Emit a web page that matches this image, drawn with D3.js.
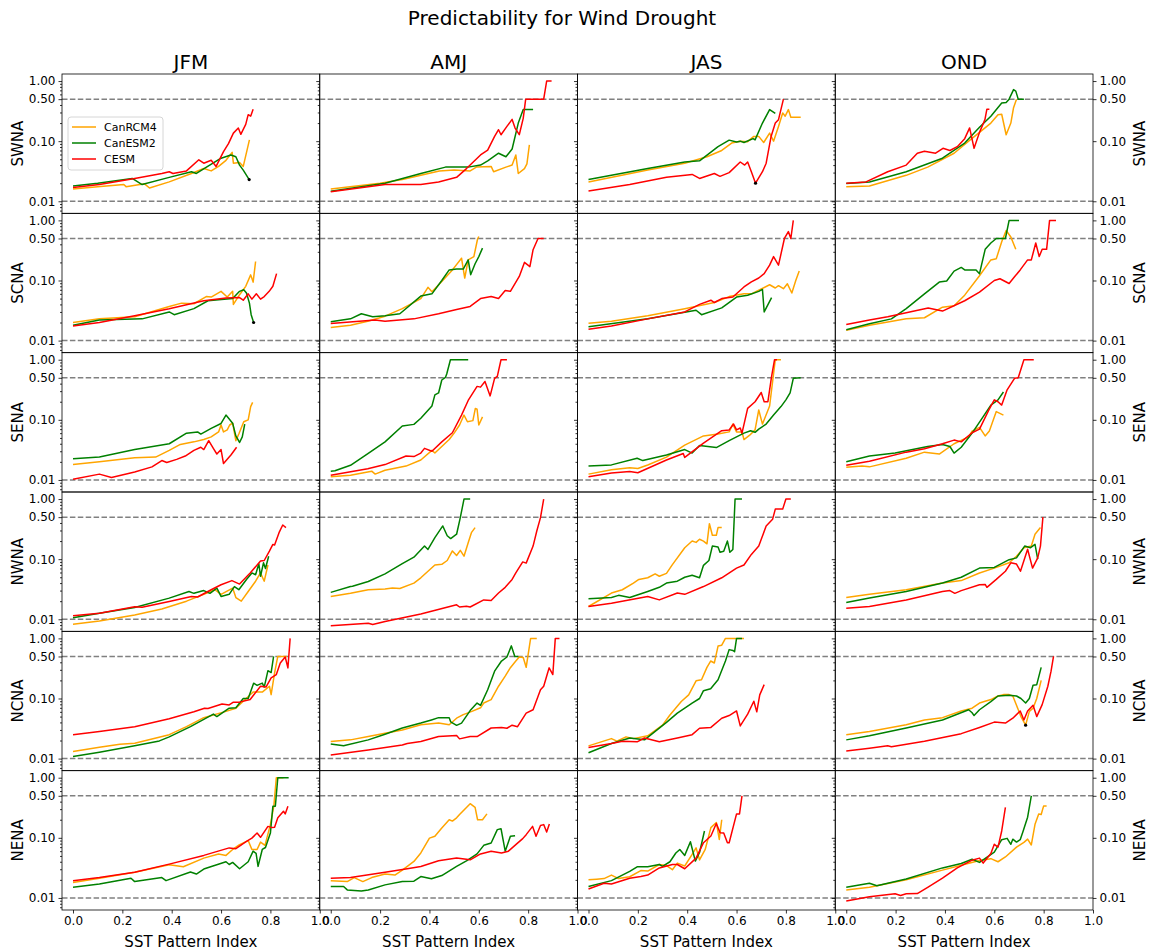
<!DOCTYPE html>
<html>
<head>
<meta charset="utf-8">
<script src="https://cdn.jsdelivr.net/npm/d3@7"></script>
<style>
  html, body { margin: 0; padding: 0; background: #fff; }
  svg { display: block; font-family: "DejaVu Sans", sans-serif; }
</style>
</head>
<body>
<svg id="chart" width="1153" height="951"></svg>
<script>
// ---- categories and labels ----
const seasons = ["JFM", "AMJ", "JAS", "OND"];
const regions = ["SWNA", "SCNA", "SENA", "NWNA", "NCNA", "NENA"];
const models = ["CanRCM4", "CanESM2", "CESM"];
const yTickValues = [0.01, 0.1, 0.5, 1.0];
const yTickLabels = ["0.01", "0.10", "0.50", "1.00"];
const xTickValues = [0.0, 0.2, 0.4, 0.6, 0.8, 1.0];
const thresholdLevels = [0.5, 0.01];
const titleText = "Predictability for Wind Drought";
const xLabelText = "SST Pattern Index";

// ---- series values: [SST pattern index, probability], one list per season (JFM, AMJ, JAS, OND) ----
const SWNA_CanRCM4 = [
  [[0,0.016],[0.1,0.0175],[0.206,0.019],[0.215,0.0175],[0.29,0.0195],[0.31,0.0166],[0.39,0.021],[0.48,0.029],[0.53,0.035],[0.56,0.032],[0.59,0.038],[0.62,0.048],[0.645,0.065],[0.65,0.043],[0.675,0.044],[0.69,0.038],[0.715,0.105]],
  [[0,0.016],[0.2,0.02],[0.29,0.023],[0.44,0.032],[0.5,0.033],[0.565,0.032],[0.59,0.037],[0.65,0.038],[0.66,0.031],[0.71,0.037],[0.735,0.04],[0.75,0.059],[0.76,0.029],[0.785,0.035],[0.795,0.042],[0.805,0.087]],
  [[0,0.021],[0.24,0.033],[0.39,0.043],[0.48,0.055],[0.54,0.07],[0.58,0.093],[0.615,0.1],[0.645,0.098],[0.67,0.12],[0.69,0.12],[0.71,0.095],[0.734,0.136],[0.75,0.1],[0.77,0.176],[0.787,0.295],[0.797,0.26],[0.81,0.335],[0.82,0.25],[0.86,0.25]],
  [[0,0.0174],[0.094,0.018],[0.243,0.027],[0.33,0.037],[0.437,0.063],[0.496,0.1],[0.54,0.14],[0.586,0.2],[0.615,0.276],[0.63,0.28],[0.648,0.128],[0.667,0.2],[0.678,0.36],[0.69,0.5]]
];
const SWNA_CanESM2 = [
  [[0,0.018],[0.1,0.02],[0.24,0.024],[0.28,0.019],[0.39,0.025],[0.48,0.031],[0.5,0.029],[0.6,0.052],[0.64,0.059],[0.66,0.055],[0.675,0.04],[0.69,0.033],[0.714,0.023]],
  [[0,0.0147],[0.22,0.02],[0.365,0.029],[0.465,0.037],[0.557,0.037],[0.607,0.04],[0.636,0.047],[0.68,0.063],[0.71,0.055],[0.735,0.074],[0.76,0.2],[0.78,0.335],[0.82,0.335]],
  [[0,0.023],[0.24,0.035],[0.39,0.045],[0.45,0.047],[0.525,0.081],[0.57,0.104],[0.6,0.097],[0.615,0.1],[0.63,0.095],[0.667,0.11],[0.675,0.105],[0.705,0.2],[0.734,0.335],[0.757,0.29]],
  [[0,0.0198],[0.094,0.021],[0.243,0.031],[0.39,0.052],[0.48,0.093],[0.54,0.17],[0.586,0.26],[0.63,0.43],[0.648,0.44],[0.66,0.5],[0.678,0.72],[0.687,0.68],[0.697,0.5],[0.72,0.5]]
];
const SWNA_CESM = [
  [[0,0.017],[0.107,0.019],[0.25,0.024],[0.36,0.029],[0.39,0.031],[0.405,0.029],[0.46,0.032],[0.51,0.049],[0.53,0.043],[0.56,0.048],[0.58,0.038],[0.61,0.067],[0.63,0.091],[0.65,0.136],[0.67,0.165],[0.68,0.13],[0.7,0.19],[0.71,0.276],[0.72,0.26],[0.73,0.34]],
  [[0,0.0144],[0.22,0.019],[0.365,0.019],[0.437,0.021],[0.51,0.025],[0.55,0.035],[0.607,0.059],[0.636,0.071],[0.664,0.12],[0.68,0.155],[0.69,0.128],[0.714,0.176],[0.735,0.23],[0.747,0.165],[0.764,0.128],[0.78,0.24],[0.79,0.5],[0.863,0.5],[0.875,1.0],[0.895,1.0]],
  [[0,0.0148],[0.167,0.019],[0.316,0.025],[0.42,0.028],[0.45,0.024],[0.51,0.029],[0.533,0.026],[0.57,0.03],[0.615,0.045],[0.633,0.04],[0.645,0.045],[0.66,0.031],[0.677,0.02],[0.705,0.031],[0.72,0.043],[0.74,0.12],[0.757,0.2],[0.77,0.228],[0.79,0.5]],
  [[0,0.02],[0.08,0.021],[0.168,0.031],[0.243,0.04],[0.288,0.063],[0.317,0.068],[0.362,0.063],[0.392,0.076],[0.42,0.07],[0.45,0.081],[0.48,0.11],[0.5,0.166],[0.518,0.076],[0.54,0.14],[0.562,0.228],[0.57,0.34],[0.58,0.34]]
];

const SCNA_CanRCM4 = [
  [[0,0.02],[0.107,0.023],[0.25,0.025],[0.39,0.037],[0.44,0.042],[0.49,0.041],[0.54,0.054],[0.56,0.053],[0.6,0.066],[0.625,0.053],[0.647,0.066],[0.65,0.04],[0.675,0.058],[0.7,0.08],[0.72,0.124],[0.73,0.094],[0.74,0.207]],
  [[0,0.0165],[0.08,0.018],[0.15,0.021],[0.22,0.0255],[0.29,0.034],[0.365,0.05],[0.394,0.077],[0.41,0.065],[0.45,0.096],[0.493,0.15],[0.53,0.235],[0.543,0.11],[0.557,0.22],[0.58,0.25],[0.595,0.49],[0.6,0.54]],
  [[0,0.0195],[0.093,0.021],[0.24,0.026],[0.39,0.034],[0.51,0.043],[0.57,0.054],[0.63,0.06],[0.66,0.06],[0.69,0.069],[0.734,0.085],[0.757,0.075],[0.77,0.082],[0.79,0.073],[0.806,0.088],[0.824,0.062],[0.84,0.1],[0.854,0.144]],
  [[0,0.0148],[0.094,0.018],[0.243,0.023],[0.317,0.024],[0.39,0.036],[0.437,0.038],[0.48,0.057],[0.54,0.12],[0.586,0.22],[0.608,0.23],[0.63,0.44],[0.648,0.68],[0.667,0.53],[0.687,0.33]]
];
const SCNA_CanESM2 = [
  [[0,0.018],[0.107,0.022],[0.28,0.023],[0.39,0.03],[0.41,0.027],[0.49,0.034],[0.547,0.046],[0.59,0.048],[0.647,0.05],[0.675,0.066],[0.692,0.07],[0.703,0.062],[0.715,0.042],[0.722,0.027],[0.732,0.02]],
  [[0,0.0205],[0.08,0.023],[0.124,0.028],[0.17,0.025],[0.22,0.026],[0.28,0.028],[0.365,0.055],[0.41,0.06],[0.45,0.1],[0.48,0.15],[0.51,0.155],[0.537,0.155],[0.557,0.22],[0.567,0.125],[0.585,0.19],[0.6,0.25],[0.615,0.345]],
  [[0,0.017],[0.24,0.023],[0.436,0.032],[0.458,0.027],[0.54,0.035],[0.6,0.053],[0.645,0.057],[0.69,0.066],[0.705,0.071],[0.712,0.03],[0.742,0.052]],
  [[0,0.0152],[0.094,0.019],[0.183,0.023],[0.243,0.034],[0.317,0.06],[0.377,0.094],[0.407,0.098],[0.437,0.143],[0.466,0.165],[0.48,0.15],[0.526,0.15],[0.54,0.13],[0.563,0.33],[0.586,0.42],[0.608,0.5],[0.645,0.5],[0.66,1.0],[0.7,1.0]]
];
const SCNA_CESM = [
  [[0,0.0175],[0.107,0.02],[0.25,0.026],[0.39,0.034],[0.53,0.046],[0.62,0.051],[0.675,0.052],[0.69,0.047],[0.71,0.06],[0.725,0.049],[0.743,0.06],[0.76,0.049],[0.775,0.054],[0.795,0.066],[0.81,0.08],[0.825,0.13]],
  [[0,0.0192],[0.18,0.022],[0.22,0.021],[0.337,0.023],[0.437,0.028],[0.51,0.033],[0.565,0.037],[0.607,0.05],[0.65,0.054],[0.68,0.05],[0.707,0.068],[0.728,0.066],[0.764,0.117],[0.785,0.2],[0.807,0.17],[0.82,0.325],[0.84,0.5],[0.863,0.5]],
  [[0,0.0155],[0.093,0.0175],[0.24,0.023],[0.39,0.03],[0.45,0.04],[0.496,0.047],[0.51,0.043],[0.54,0.05],[0.585,0.053],[0.63,0.078],[0.66,0.095],[0.69,0.11],[0.712,0.13],[0.734,0.18],[0.75,0.25],[0.77,0.18],[0.794,0.5],[0.81,0.65],[0.82,0.5],[0.83,1.0]],
  [[0,0.0185],[0.094,0.022],[0.168,0.025],[0.332,0.035],[0.39,0.031],[0.48,0.046],[0.54,0.064],[0.6,0.1],[0.623,0.107],[0.66,0.089],[0.682,0.115],[0.705,0.15],[0.735,0.22],[0.75,0.22],[0.768,0.42],[0.782,0.25],[0.794,0.33],[0.812,0.33],[0.824,1.0],[0.85,1.0]]
];

const SENA_CanRCM4 = [
  [[0,0.018],[0.107,0.02],[0.25,0.0235],[0.335,0.024],[0.39,0.031],[0.435,0.039],[0.49,0.043],[0.53,0.047],[0.56,0.052],[0.59,0.063],[0.6,0.082],[0.61,0.063],[0.625,0.068],[0.635,0.082],[0.647,0.088],[0.66,0.045],[0.672,0.058],[0.692,0.093],[0.71,0.1],[0.72,0.166],[0.728,0.195]],
  [[0,0.0113],[0.08,0.012],[0.166,0.014],[0.18,0.0125],[0.22,0.0145],[0.305,0.017],[0.365,0.0215],[0.41,0.031],[0.422,0.028],[0.48,0.047],[0.5,0.06],[0.522,0.082],[0.54,0.12],[0.554,0.093],[0.576,0.097],[0.586,0.155],[0.593,0.15],[0.6,0.082],[0.615,0.112]],
  [[0,0.0125],[0.093,0.0148],[0.167,0.016],[0.2,0.0155],[0.24,0.0177],[0.316,0.024],[0.39,0.038],[0.466,0.054],[0.525,0.058],[0.57,0.063],[0.585,0.085],[0.6,0.063],[0.622,0.063],[0.63,0.047],[0.652,0.055],[0.675,0.068],[0.69,0.146],[0.705,0.085],[0.734,0.17],[0.757,1.0],[0.78,1.0]],
  [[0,0.0163],[0.064,0.017],[0.094,0.0165],[0.243,0.023],[0.317,0.029],[0.377,0.027],[0.437,0.04],[0.496,0.052],[0.51,0.065],[0.54,0.075],[0.563,0.054],[0.58,0.065],[0.608,0.137],[0.637,0.12]]
];
const SENA_CanESM2 = [
  [[0,0.0225],[0.107,0.024],[0.25,0.032],[0.39,0.04],[0.46,0.06],[0.505,0.063],[0.518,0.058],[0.56,0.072],[0.6,0.087],[0.62,0.12],[0.647,0.088],[0.66,0.054],[0.675,0.042],[0.686,0.052],[0.696,0.085]],
  [[0,0.014],[0.017,0.0142],[0.08,0.0175],[0.152,0.0276],[0.22,0.043],[0.29,0.079],[0.337,0.084],[0.365,0.106],[0.41,0.17],[0.422,0.26],[0.437,0.28],[0.45,0.46],[0.465,0.51],[0.47,0.58],[0.485,1.0],[0.557,1.0]],
  [[0,0.017],[0.093,0.0178],[0.197,0.023],[0.22,0.021],[0.316,0.026],[0.39,0.032],[0.42,0.028],[0.45,0.0375],[0.518,0.0345],[0.57,0.045],[0.63,0.06],[0.657,0.066],[0.675,0.062],[0.69,0.07],[0.72,0.085],[0.75,0.12],[0.78,0.166],[0.8,0.215],[0.817,0.28],[0.83,0.49],[0.86,0.5]],
  [[0,0.02],[0.094,0.025],[0.198,0.028],[0.33,0.036],[0.39,0.039],[0.42,0.036],[0.437,0.028],[0.466,0.035],[0.51,0.06],[0.555,0.113],[0.586,0.176],[0.615,0.215],[0.637,0.29]]
];
const SENA_CESM = [
  [[0,0.0103],[0.107,0.0125],[0.156,0.011],[0.25,0.0136],[0.32,0.0165],[0.36,0.021],[0.38,0.0195],[0.42,0.022],[0.455,0.025],[0.49,0.031],[0.518,0.035],[0.53,0.032],[0.55,0.045],[0.57,0.033],[0.583,0.027],[0.6,0.032],[0.61,0.0187],[0.64,0.026],[0.663,0.035]],
  [[0,0.012],[0.15,0.0154],[0.22,0.018],[0.305,0.025],[0.337,0.0245],[0.365,0.028],[0.38,0.0335],[0.41,0.03],[0.45,0.043],[0.493,0.061],[0.53,0.12],[0.557,0.21],[0.593,0.36],[0.607,0.35],[0.625,0.435],[0.646,0.25],[0.664,0.49],[0.675,0.53],[0.69,1.0],[0.714,1.0]],
  [[0,0.0113],[0.093,0.013],[0.167,0.0138],[0.2,0.0132],[0.316,0.0215],[0.384,0.0275],[0.39,0.0237],[0.466,0.041],[0.54,0.066],[0.57,0.068],[0.588,0.085],[0.6,0.068],[0.615,0.073],[0.622,0.06],[0.645,0.155],[0.675,0.2],[0.7,0.285],[0.712,0.2],[0.727,0.2],[0.742,0.53],[0.754,1.0],[0.764,1.0]],
  [[0,0.0175],[0.094,0.0205],[0.243,0.029],[0.317,0.033],[0.39,0.04],[0.437,0.046],[0.466,0.043],[0.51,0.061],[0.54,0.07],[0.578,0.146],[0.6,0.215],[0.615,0.2],[0.63,0.176],[0.652,0.315],[0.682,0.49],[0.697,0.5],[0.72,1.0],[0.76,1.0]]
];

const NWNA_CanRCM4 = [
  [[0,0.0083],[0.107,0.0094],[0.25,0.0118],[0.36,0.0148],[0.46,0.02],[0.53,0.026],[0.575,0.031],[0.6,0.026],[0.647,0.033],[0.66,0.023],[0.682,0.02],[0.71,0.029],[0.74,0.043],[0.76,0.059],[0.775,0.043],[0.79,0.08]],
  [[0,0.0239],[0.08,0.027],[0.152,0.031],[0.22,0.032],[0.25,0.033],[0.28,0.0325],[0.337,0.04],[0.365,0.049],[0.422,0.08],[0.45,0.082],[0.472,0.095],[0.493,0.137],[0.51,0.115],[0.525,0.14],[0.54,0.112],[0.557,0.188],[0.57,0.276],[0.585,0.335]],
  [[0,0.0163],[0.093,0.0273],[0.137,0.031],[0.182,0.04],[0.204,0.046],[0.24,0.049],[0.27,0.057],[0.287,0.052],[0.316,0.058],[0.34,0.081],[0.39,0.155],[0.42,0.2],[0.436,0.19],[0.45,0.214],[0.466,0.2],[0.48,0.18],[0.49,0.39],[0.502,0.25],[0.518,0.25],[0.525,0.335],[0.54,0.335]],
  [[0,0.023],[0.094,0.026],[0.243,0.031],[0.39,0.04],[0.466,0.044],[0.54,0.059],[0.6,0.071],[0.66,0.087],[0.69,0.112],[0.72,0.155],[0.75,0.165],[0.765,0.26],[0.787,0.335]]
];
const NWNA_CanESM2 = [
  [[0,0.0106],[0.107,0.0126],[0.25,0.0157],[0.39,0.0225],[0.47,0.029],[0.49,0.027],[0.53,0.03],[0.555,0.027],[0.583,0.033],[0.6,0.024],[0.633,0.026],[0.654,0.035],[0.672,0.031],[0.703,0.046],[0.725,0.059],[0.74,0.055],[0.753,0.084],[0.76,0.052],[0.772,0.087],[0.78,0.07],[0.793,0.112]],
  [[0,0.028],[0.08,0.035],[0.088,0.0355],[0.152,0.0425],[0.22,0.057],[0.29,0.084],[0.337,0.108],[0.38,0.165],[0.394,0.145],[0.422,0.228],[0.454,0.357],[0.472,0.245],[0.486,0.22],[0.51,0.26],[0.525,0.49],[0.54,1.0],[0.565,1.0]],
  [[0,0.022],[0.093,0.023],[0.122,0.025],[0.167,0.023],[0.24,0.029],[0.287,0.034],[0.316,0.04],[0.36,0.043],[0.39,0.05],[0.42,0.054],[0.45,0.049],[0.466,0.079],[0.488,0.095],[0.502,0.165],[0.525,0.16],[0.533,0.13],[0.548,0.135],[0.563,0.2],[0.573,0.13],[0.585,0.145],[0.594,1.0],[0.622,1.0]],
  [[0,0.019],[0.094,0.0225],[0.243,0.029],[0.39,0.04],[0.466,0.05],[0.54,0.071],[0.6,0.073],[0.66,0.098],[0.69,0.105],[0.723,0.165],[0.747,0.155],[0.765,0.176],[0.776,0.1]]
];
const NWNA_CESM = [
  [[0,0.0114],[0.107,0.0126],[0.25,0.0162],[0.28,0.0158],[0.39,0.0198],[0.48,0.024],[0.505,0.0235],[0.56,0.031],[0.6,0.0375],[0.644,0.044],[0.675,0.0385],[0.718,0.059],[0.76,0.093],[0.775,0.095],[0.796,0.136],[0.81,0.176],[0.817,0.172],[0.835,0.276],[0.85,0.37],[0.863,0.335]],
  [[0,0.0078],[0.152,0.0086],[0.17,0.0082],[0.22,0.0092],[0.365,0.0122],[0.51,0.0174],[0.522,0.016],[0.55,0.0165],[0.565,0.016],[0.62,0.021],[0.65,0.0205],[0.68,0.0273],[0.707,0.034],[0.735,0.046],[0.75,0.059],[0.778,0.09],[0.792,0.086],[0.82,0.165],[0.835,0.294],[0.85,0.49],[0.863,1.0]],
  [[0,0.0163],[0.093,0.0185],[0.24,0.024],[0.287,0.021],[0.36,0.0273],[0.39,0.026],[0.466,0.035],[0.54,0.049],[0.6,0.071],[0.63,0.08],[0.66,0.12],[0.69,0.165],[0.72,0.357],[0.746,0.46],[0.757,0.68],[0.787,0.68],[0.8,1.0],[0.82,1.0]],
  [[0,0.0153],[0.094,0.0163],[0.243,0.021],[0.39,0.029],[0.42,0.03],[0.44,0.027],[0.466,0.03],[0.54,0.0375],[0.563,0.038],[0.57,0.034],[0.608,0.046],[0.645,0.063],[0.667,0.087],[0.69,0.083],[0.706,0.063],[0.735,0.146],[0.755,0.071],[0.776,0.105],[0.787,0.165],[0.797,0.5]]
];

const NCNA_CanRCM4 = [
  [[0,0.0131],[0.107,0.0154],[0.19,0.0173],[0.25,0.018],[0.39,0.025],[0.46,0.034],[0.53,0.048],[0.62,0.061],[0.66,0.069],[0.69,0.09],[0.73,0.128],[0.767,0.128],[0.796,0.16],[0.803,0.116],[0.817,0.267],[0.83,0.5],[0.867,0.5]],
  [[0,0.0193],[0.08,0.0205],[0.152,0.0233],[0.22,0.0265],[0.29,0.03],[0.365,0.0366],[0.437,0.039],[0.48,0.0366],[0.51,0.047],[0.537,0.054],[0.572,0.061],[0.607,0.07],[0.62,0.084],[0.65,0.096],[0.68,0.16],[0.707,0.235],[0.728,0.325],[0.75,0.42],[0.764,0.49],[0.78,0.48],[0.792,0.33],[0.81,1.0],[0.835,1.0]],
  [[0,0.0163],[0.093,0.0215],[0.115,0.0195],[0.152,0.023],[0.182,0.0215],[0.24,0.024],[0.3,0.036],[0.33,0.053],[0.376,0.089],[0.406,0.115],[0.436,0.197],[0.458,0.205],[0.48,0.33],[0.495,0.42],[0.51,0.39],[0.525,0.745],[0.54,0.77],[0.555,1.0],[0.63,1.0]],
  [[0,0.025],[0.094,0.0283],[0.243,0.0366],[0.317,0.044],[0.39,0.048],[0.466,0.062],[0.51,0.069],[0.54,0.084],[0.586,0.096],[0.615,0.11],[0.637,0.116],[0.66,0.116],[0.675,0.11],[0.69,0.077],[0.708,0.05],[0.727,0.036],[0.742,0.061],[0.757,0.069],[0.772,0.1],[0.79,0.2]]
];
const NCNA_CanESM2 = [
  [[0,0.0108],[0.107,0.0128],[0.25,0.0164],[0.35,0.0197],[0.39,0.023],[0.476,0.034],[0.569,0.055],[0.583,0.05],[0.633,0.069],[0.66,0.07],[0.69,0.1],[0.71,0.1],[0.732,0.18],[0.746,0.165],[0.767,0.18],[0.775,0.155],[0.79,0.29],[0.803,0.27],[0.813,0.5]],
  [[0,0.0175],[0.052,0.0164],[0.152,0.0205],[0.22,0.0255],[0.29,0.0323],[0.365,0.039],[0.408,0.044],[0.437,0.048],[0.48,0.048],[0.486,0.041],[0.51,0.0358],[0.53,0.039],[0.565,0.063],[0.593,0.084],[0.607,0.077],[0.636,0.14],[0.664,0.285],[0.692,0.42],[0.714,0.49],[0.732,0.75],[0.746,0.5],[0.76,0.5]],
  [[0,0.0125],[0.093,0.0178],[0.167,0.022],[0.227,0.0205],[0.316,0.04],[0.36,0.057],[0.42,0.084],[0.45,0.1],[0.466,0.135],[0.495,0.145],[0.525,0.205],[0.555,0.42],[0.57,0.65],[0.585,0.63],[0.592,0.6],[0.6,1.0],[0.622,1.0]],
  [[0,0.0205],[0.094,0.024],[0.243,0.0323],[0.39,0.044],[0.496,0.065],[0.51,0.058],[0.518,0.052],[0.54,0.065],[0.586,0.089],[0.615,0.11],[0.66,0.113],[0.69,0.11],[0.708,0.1],[0.727,0.084],[0.742,0.1],[0.757,0.166],[0.772,0.17],[0.79,0.33]]
];
const NCNA_CESM = [
  [[0,0.025],[0.107,0.0283],[0.25,0.034],[0.39,0.046],[0.49,0.06],[0.533,0.069],[0.547,0.068],[0.604,0.081],[0.633,0.078],[0.65,0.087],[0.675,0.087],[0.718,0.096],[0.76,0.16],[0.782,0.155],[0.803,0.22],[0.824,0.25],[0.84,0.39],[0.86,0.49],[0.871,0.323],[0.88,1.0]],
  [[0,0.0115],[0.152,0.0139],[0.29,0.0168],[0.31,0.0178],[0.365,0.0193],[0.437,0.0233],[0.51,0.0243],[0.522,0.0213],[0.565,0.0233],[0.593,0.0233],[0.65,0.0323],[0.692,0.033],[0.714,0.032],[0.735,0.036],[0.757,0.034],[0.792,0.057],[0.82,0.065],[0.85,0.14],[0.863,0.16],[0.877,0.25],[0.885,0.323],[0.9,0.25],[0.91,1.0],[0.927,1.0]],
  [[0,0.0153],[0.093,0.0178],[0.137,0.0195],[0.197,0.019],[0.227,0.022],[0.287,0.019],[0.36,0.022],[0.42,0.025],[0.45,0.032],[0.496,0.033],[0.54,0.047],[0.57,0.052],[0.6,0.062],[0.615,0.035],[0.645,0.055],[0.67,0.09],[0.682,0.06],[0.694,0.115],[0.712,0.17]],
  [[0,0.0134],[0.094,0.0149],[0.168,0.0164],[0.183,0.0158],[0.317,0.0195],[0.466,0.026],[0.54,0.033],[0.6,0.0405],[0.645,0.039],[0.675,0.047],[0.705,0.062],[0.72,0.044],[0.735,0.062],[0.757,0.077],[0.772,0.05],[0.794,0.079],[0.817,0.16],[0.83,0.285],[0.84,0.5]]
];

const NENA_CanRCM4 = [
  [[0,0.018],[0.107,0.0213],[0.25,0.0268],[0.39,0.0356],[0.447,0.033],[0.53,0.046],[0.59,0.054],[0.62,0.051],[0.647,0.064],[0.675,0.077],[0.71,0.09],[0.725,0.064],[0.746,0.064],[0.76,0.085],[0.778,0.075],[0.8,0.166],[0.814,0.34],[0.824,1.0],[0.853,1.0]],
  [[0,0.0193],[0.067,0.0187],[0.095,0.0218],[0.13,0.0187],[0.166,0.0218],[0.22,0.025],[0.26,0.024],[0.29,0.029],[0.337,0.0405],[0.365,0.056],[0.4,0.099],[0.422,0.106],[0.45,0.146],[0.48,0.2],[0.493,0.19],[0.51,0.215],[0.522,0.244],[0.565,0.37],[0.585,0.32],[0.595,0.2],[0.615,0.2],[0.633,0.25]],
  [[0,0.02],[0.033,0.0205],[0.063,0.021],[0.093,0.024],[0.122,0.021],[0.167,0.0225],[0.212,0.0285],[0.24,0.028],[0.287,0.036],[0.316,0.0345],[0.34,0.0295],[0.36,0.038],[0.39,0.034],[0.42,0.053],[0.436,0.068],[0.45,0.043],[0.473,0.064],[0.496,0.148],[0.518,0.18],[0.53,0.094],[0.54,0.2]],
  [[0,0.0136],[0.094,0.015],[0.243,0.02],[0.39,0.029],[0.466,0.035],[0.54,0.042],[0.586,0.045],[0.615,0.04],[0.645,0.048],[0.69,0.07],[0.72,0.084],[0.735,0.095],[0.75,0.076],[0.765,0.168],[0.78,0.25],[0.79,0.245],[0.8,0.34],[0.812,0.34]]
];
const NENA_CanESM2 = [
  [[0,0.0151],[0.107,0.017],[0.235,0.0213],[0.25,0.0187],[0.36,0.0218],[0.377,0.0194],[0.476,0.027],[0.5,0.025],[0.533,0.0306],[0.62,0.04],[0.633,0.036],[0.647,0.039],[0.675,0.0306],[0.71,0.04],[0.73,0.06],[0.742,0.055],[0.75,0.0335],[0.767,0.064],[0.78,0.069],[0.8,0.12],[0.81,0.335],[0.82,0.335],[0.83,1.0],[0.874,1.0]],
  [[0,0.0155],[0.052,0.0155],[0.067,0.0136],[0.124,0.013],[0.152,0.0136],[0.22,0.0165],[0.29,0.0187],[0.337,0.019],[0.365,0.0227],[0.408,0.0208],[0.45,0.0236],[0.51,0.0334],[0.55,0.0415],[0.593,0.054],[0.62,0.075],[0.65,0.082],[0.675,0.137],[0.69,0.142],[0.707,0.06],[0.728,0.106],[0.747,0.108]],
  [[0,0.0155],[0.093,0.0194],[0.167,0.0276],[0.197,0.033],[0.24,0.033],[0.287,0.036],[0.3,0.0335],[0.33,0.04],[0.354,0.056],[0.37,0.064],[0.39,0.051],[0.413,0.086],[0.433,0.041],[0.45,0.057],[0.47,0.13]],
  [[0,0.015],[0.094,0.0176],[0.124,0.016],[0.243,0.0207],[0.39,0.0316],[0.466,0.0375],[0.51,0.044],[0.54,0.039],[0.6,0.058],[0.63,0.093],[0.652,0.098],[0.667,0.078],[0.675,0.095],[0.69,0.085],[0.705,0.093],[0.717,0.13],[0.735,0.22],[0.75,0.5]]
];
const NENA_CESM = [
  [[0,0.0193],[0.107,0.0218],[0.25,0.0268],[0.39,0.0365],[0.53,0.051],[0.633,0.068],[0.66,0.066],[0.703,0.087],[0.725,0.099],[0.746,0.12],[0.76,0.102],[0.79,0.155],[0.806,0.148],[0.817,0.15],[0.83,0.215],[0.853,0.277],[0.86,0.25],[0.871,0.335]],
  [[0,0.0213],[0.08,0.0218],[0.22,0.0268],[0.31,0.0306],[0.365,0.0334],[0.437,0.0415],[0.51,0.046],[0.565,0.043],[0.607,0.054],[0.65,0.06],[0.692,0.056],[0.72,0.06],[0.75,0.077],[0.778,0.097],[0.792,0.113],[0.818,0.155],[0.832,0.106],[0.85,0.16],[0.863,0.166],[0.875,0.125],[0.886,0.17]],
  [[0,0.0141],[0.063,0.0176],[0.093,0.017],[0.167,0.0213],[0.212,0.0228],[0.24,0.024],[0.287,0.0316],[0.34,0.036],[0.36,0.036],[0.39,0.0306],[0.436,0.046],[0.466,0.083],[0.496,0.107],[0.518,0.173],[0.533,0.122],[0.548,0.12],[0.563,0.083],[0.57,0.083],[0.6,0.25],[0.612,0.25],[0.622,0.5]],
  [[0,0.0089],[0.094,0.0105],[0.198,0.0117],[0.22,0.011],[0.243,0.0117],[0.288,0.0118],[0.33,0.015],[0.39,0.0213],[0.45,0.0316],[0.51,0.0425],[0.54,0.046],[0.555,0.038],[0.586,0.055],[0.6,0.078],[0.615,0.07],[0.63,0.13],[0.645,0.32]]
];

// final points of truncated series, marked with a dot: [region, season, index, probability]
const endMarks = [
  ["SWNA", "JFM", 0.714, 0.023],
  ["SWNA", "JAS", 0.677, 0.02],
  ["SCNA", "JFM", 0.732, 0.02],
  ["NCNA", "OND", 0.727, 0.036]
];

// lookup table: region -> [CanRCM4, CanESM2, CESM]
const seriesTable = {
  SWNA: [SWNA_CanRCM4, SWNA_CanESM2, SWNA_CESM],
  SCNA: [SCNA_CanRCM4, SCNA_CanESM2, SCNA_CESM],
  SENA: [SENA_CanRCM4, SENA_CanESM2, SENA_CESM],
  NWNA: [NWNA_CanRCM4, NWNA_CanESM2, NWNA_CESM],
  NCNA: [NCNA_CanRCM4, NCNA_CanESM2, NCNA_CESM],
  NENA: [NENA_CanRCM4, NENA_CanESM2, NENA_CESM]
};

// ---- styling and layout ----
const modelColors = ["#ffa500", "#008000", "#ff0000"];
const FONT = "DejaVu Sans, sans-serif";
const gridLeft = 62, gridRight = 1093, gridTop = 74, gridBottom = 910;
const panelW = (gridRight - gridLeft) / seasons.length;
const panelH = (gridBottom - gridTop) / regions.length;

const svg = d3.select("#chart");
svg.append("rect").attr("width", 1153).attr("height", 951).attr("fill", "#fff");

const x = d3.scaleLinear().domain([-0.0446, 1.0]).range([0, panelW]);
const y = d3.scaleLog().domain([0.0063, 1.31]).range([panelH, 0]);

// minor log ticks inside the y domain
const minorTicks = [];
for (const decade of [0.001, 0.01, 0.1]) {
  for (let m = 2; m <= 9; m++) {
    const v = m * decade;
    if (v >= y.domain()[0] && v <= y.domain()[1] && v !== 0.5) minorTicks.push(v);
  }
}

const line = d3.line().x(d => x(d[0])).y(d => y(d[1]));

// title
svg.append("text")
  .attr("x", 562).attr("y", 25)
  .attr("text-anchor", "middle")
  .attr("font-family", FONT).attr("font-size", 20)
  .text(titleText);

regions.forEach((region, r) => {
  seasons.forEach((season, c) => {
    const g = svg.append("g")
      .attr("transform", `translate(${gridLeft + c * panelW},${gridTop + r * panelH})`);

    const clipId = `clip-${r}-${c}`;
    g.append("clipPath").attr("id", clipId)
      .append("rect").attr("width", panelW).attr("height", panelH);

    // reference levels
    g.selectAll("line.ref").data(thresholdLevels).join("line")
      .attr("class", "ref")
      .attr("x1", 0).attr("x2", panelW)
      .attr("y1", d => y(d)).attr("y2", d => y(d))
      .attr("stroke", "#808080").attr("stroke-width", 1.5)
      .attr("stroke-dasharray", "5.5,2.4");

    // model curves
    const plot = g.append("g").attr("clip-path", `url(#${clipId})`);
    seriesTable[region].forEach((modelSeries, m) => {
      plot.append("path")
        .datum(modelSeries[c])
        .attr("d", line)
        .attr("fill", "none")
        .attr("stroke", modelColors[m])
        .attr("stroke-width", 1.5)
        .attr("stroke-linejoin", "round");
    });

    plot.selectAll("circle.endmark")
      .data(endMarks.filter(d => d[0] === region && d[1] === season))
      .join("circle")
      .attr("class", "endmark")
      .attr("cx", d => x(d[2])).attr("cy", d => y(d[3]))
      .attr("r", 1.6).attr("fill", "#000");

    // left axis: major + minor ticks
    const leftMajor = d3.axisLeft(y).tickValues(yTickValues).tickSize(3.5).tickPadding(3)
      .tickFormat(c === 0 ? (d => yTickLabels[yTickValues.indexOf(d)]) : () => "");
    const la = g.append("g").call(leftMajor);
    const lm = g.append("g").call(d3.axisLeft(y).tickValues(minorTicks).tickSize(2).tickFormat(() => ""));
    [la, lm].forEach(a => {
      a.select(".domain").remove();
      a.selectAll("line").attr("stroke", "#000").attr("stroke-width", 0.8);
      a.selectAll("text").attr("font-family", FONT).attr("font-size", 12).attr("fill", "#000");
    });

    // right axis on the last column
    if (c === seasons.length - 1) {
      const ra = g.append("g").attr("transform", `translate(${panelW},0)`)
        .call(d3.axisRight(y).tickValues(yTickValues).tickSize(3.5).tickPadding(3)
          .tickFormat(d => yTickLabels[yTickValues.indexOf(d)]));
      ra.select(".domain").remove();
      ra.selectAll("line").attr("stroke", "#000").attr("stroke-width", 0.8);
      ra.selectAll("text").attr("font-family", FONT).attr("font-size", 12).attr("fill", "#000");
    }

    // bottom axis on the last row
    if (r === regions.length - 1) {
      const ba = g.append("g").attr("transform", `translate(0,${panelH})`)
        .call(d3.axisBottom(x).tickValues(xTickValues).tickSize(3.5).tickPadding(3)
          .tickFormat(d3.format(".1f")));
      ba.select(".domain").remove();
      ba.selectAll("line").attr("stroke", "#000").attr("stroke-width", 0.8);
      ba.selectAll("text").attr("font-family", FONT).attr("font-size", 12).attr("fill", "#000");

      g.append("text")
        .attr("x", panelW / 2).attr("y", panelH + 37)
        .attr("text-anchor", "middle")
        .attr("font-family", FONT).attr("font-size", 15)
        .text(xLabelText);
    }

    // frame
    g.append("rect").attr("width", panelW).attr("height", panelH)
      .attr("fill", "none").attr("stroke", "#000").attr("stroke-width", 0.8);

    // season headers
    if (r === 0) {
      g.append("text")
        .attr("x", panelW / 2).attr("y", -5)
        .attr("text-anchor", "middle")
        .attr("font-family", FONT).attr("font-size", 20)
        .text(season);
    }
  });

  // region labels on both sides
  const cy = gridTop + (r + 0.5) * panelH;
  [18, 1140].forEach(lx => {
    svg.append("text")
      .attr("transform", `translate(${lx},${cy}) rotate(-90)`)
      .attr("dy", "0.35em")
      .attr("text-anchor", "middle")
      .attr("font-family", FONT).attr("font-size", 15)
      .text(region);
  });
});

// legend in the first panel
const legend = svg.append("g").attr("transform", `translate(${gridLeft + 6},${gridTop + 43})`);
legend.append("rect")
  .attr("width", 95).attr("height", 53).attr("rx", 3)
  .attr("fill", "#fff").attr("fill-opacity", 0.8)
  .attr("stroke", "#cccccc").attr("stroke-width", 0.8);
models.forEach((name, i) => {
  const ly = 10 + i * 16;
  legend.append("line")
    .attr("x1", 4).attr("x2", 28).attr("y1", ly).attr("y2", ly)
    .attr("stroke", modelColors[i]).attr("stroke-width", 1.5);
  legend.append("text")
    .attr("x", 36).attr("y", ly).attr("dy", "0.35em")
    .attr("font-family", FONT).attr("font-size", 11)
    .text(name);
});
</script>
</body>
</html>
